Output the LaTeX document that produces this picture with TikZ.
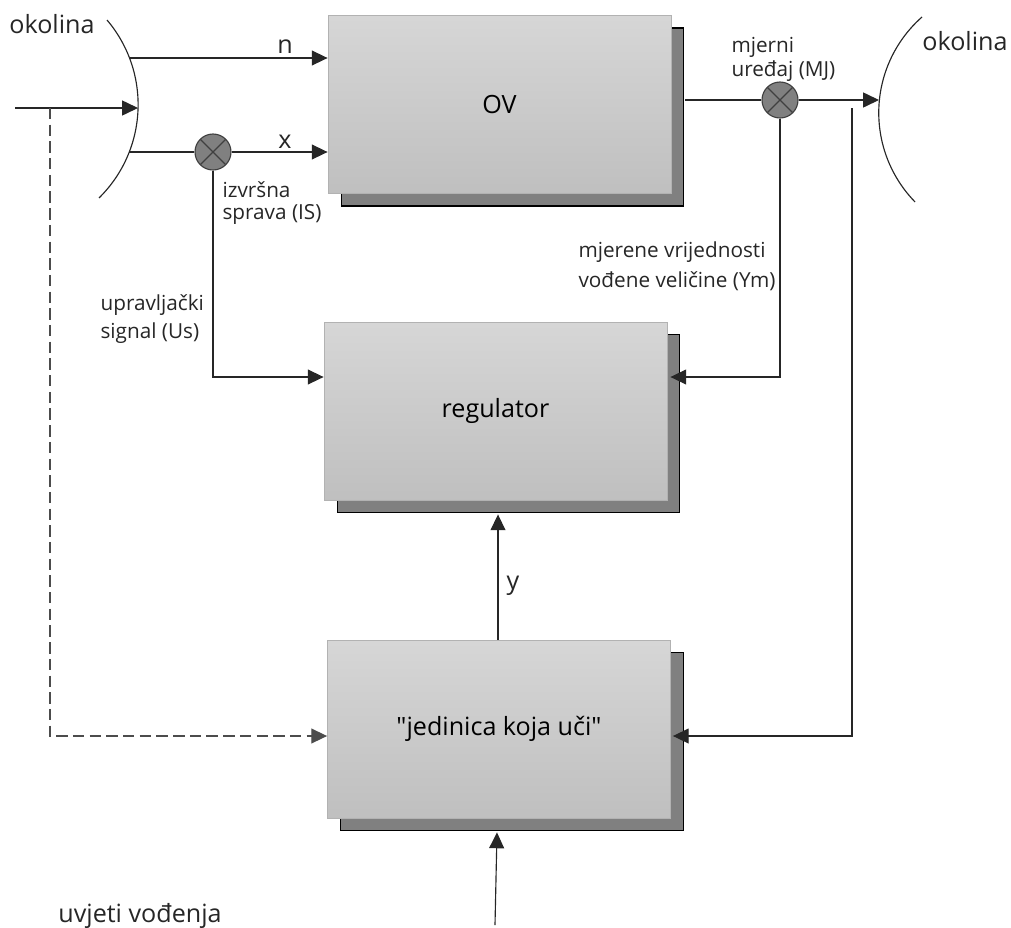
\documentclass[tikz,border=0pt]{standalone}
\usepackage{fontspec}
\setmainfont{Open Sans}[Ligatures=TeXOff]
\usetikzlibrary{calc,arrows.meta,shadows}

\begin{document}
\begin{tikzpicture}[x=0.02cm,y=-0.02cm,line width=0.65pt,draw=black!85,
  blok/.style={draw=gray!60,line width=0.5pt,top color=gray!32,bottom color=gray!50,
    minimum width=6.86cm,minimum height=3.56cm,font=\fontsize{14.3}{17}\selectfont,
    drop shadow={shadow xshift=0.26cm,shadow yshift=-0.25cm,opacity=1,fill=gray,draw=black,line width=0.6pt}},
  mjesto/.style={circle,draw=black!75,fill=gray,minimum size=0.72cm,inner sep=0pt,
    path picture={\draw[black!75] (path picture bounding box.north west) -- (path picture bounding box.south east)
      (path picture bounding box.north east) -- (path picture bounding box.south west);}},
  pil/.style={-{Triangle[length=9pt,width=8.5pt]}},
  veliki/.style={font=\fontsize{14.3}{17}\selectfont,inner sep=0pt,text=black!85},
  opis/.style={align=left,anchor=north west,inner sep=0pt,text=black!85,font=\fontsize{11.8}{#1}\selectfont}]

\useasboundingbox (0,0) rectangle (1011,927);

% okolina, lijevo i desno
\draw (107,20) arc(-40.35:45.5:130.8);
\draw (922,17) arc(228.6:135.7:127.7);
\node[veliki,anchor=base] (okL) at (52,33) {okolina};
\node[veliki,anchor=base] (okR) at (965,50) {okolina};

% blokovi
\node[blok] (ov)  at (499.5,104.5) {OV};
\node[blok] (reg) at (495.5,411) {regulator};
\node[blok] (jed) at (499,729) {"jedinica koja uči"};

\node[mjesto] (is) at (213,152) {};
\node[mjesto] (mj) at (780,100) {};

\coordinate (ulaz)  at (15,108);
\coordinate (envL)  at (138,108);
\coordinate (nIn)   at (129.5,58);
\coordinate (xIn)   at (129,152);
\coordinate (grana) at (50,108);
\coordinate (envR)  at (879,100);
\coordinate (odvod) at (852,108);
\coordinate (uvjet) at (495,925);

\coordinate (ovR)  at ($(ov.east)+(14,0)$);
\coordinate (regL) at ($(reg.west)+(0,-34)$);
\coordinate (regR) at ($(reg.east)+(3,-34)$);
\coordinate (regB) at ($(reg.south)+(2.5,14)$);
\coordinate (jedL) at ($(jed.west)+(0,7)$);
\coordinate (jedR) at ($(jed.east)+(2,7)$);
\coordinate (jedB) at ($(jed.south)+(-2,14)$);

\draw[pil] (ulaz) -- (envL);
\draw[pil] (nIn) -- (nIn -| ov.west);
\draw (xIn) -- (is.west);
\draw[pil] (is.east) -- (is.east -| ov.west);
\draw[pil] (is.south) |- (regL);
\draw (ovR |- mj) -- (mj.west);
\draw[pil] (mj.east) -- (envR);
\draw[pil] (mj.south) |- (regR);
\draw[pil,dash pattern=on 6.5pt off 3pt,draw=black!70] (grana) |- (jedL);
\draw[pil] (odvod) |- (jedR);
\draw[pil] (jed.north -| regB) -- (regB);
\draw[pil] (uvjet) -- (jedB);

% oznake
\node[veliki,anchor=base] (nLab) at (285,53) {n};
\node[veliki,anchor=base] (xLab) at (285,148) {x};
\node[veliki,anchor=base] (yLab) at (513,589) {y};
\node[veliki,anchor=base] (uvLab) at (140,922) {uvjeti vođenja};
\node[opis=12.5pt] (isLab) at (222,181) {izvršna\\sprava (IS)};
\node[opis=16pt]   (usLab) at (100,294) {upravljački\\signal (Us)};
\node[opis=17pt]   (ymLab) at (578,241) {mjerene vrijednosti\\vođene veličine (Ym)};
\node[opis=13.7pt] (mjLab) at (731,37) {mjerni\\uređaj (MJ)};

\end{tikzpicture}
\end{document}
